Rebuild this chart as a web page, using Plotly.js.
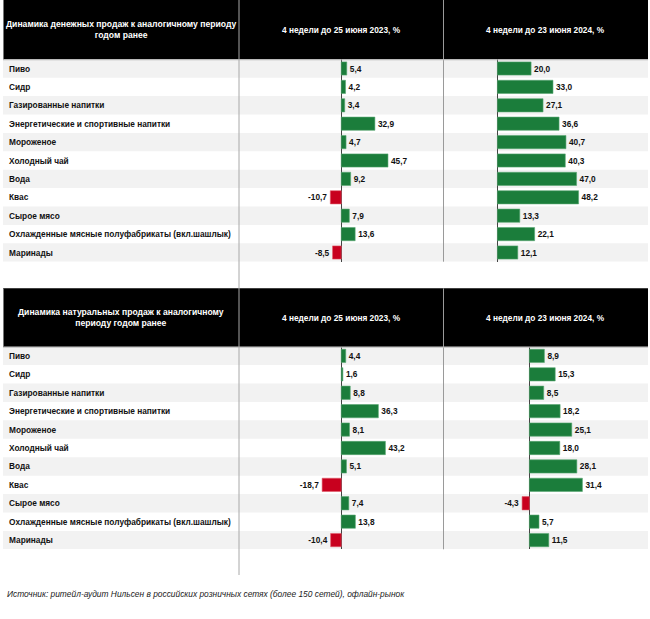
<!DOCTYPE html>
<html>
<head>
<meta charset="utf-8">
<script src="https://cdn.plot.ly/plotly-3.0.1.min.js"></script>
<style>html,body{margin:0;padding:0;background:#fff;}#chart{width:650px;height:619px;}</style>
</head>
<body>
<div id="chart"></div>
<script>
const categories = ['Пиво','Сидр','Газированные напитки','Энергетические и спортивные напитки','Мороженое','Холодный чай','Вода','Квас','Сырое мясо','Охлажденные мясные полуфабрикаты (вкл.шашлык)','Маринады'];
const money2023 = [5.4,4.2,3.4,32.9,4.7,45.7,9.2,-10.7,7.9,13.6,-8.5];
const money2024 = [20.0,33.0,27.1,36.6,40.7,40.3,47.0,48.2,13.3,22.1,12.1];
const volume2023 = [4.4,1.6,8.8,36.3,8.1,43.2,5.1,-18.7,7.4,13.8,-10.4];
const volume2024 = [8.9,15.3,8.5,18.2,25.1,18.0,28.1,31.4,-4.3,5.7,11.5];

const tableTitles = ['Динамика денежных продаж к аналогичному периоду<br>годом ранее','Динамика натуральных продаж к аналогичному<br>периоду годом ранее'];
const columnTitles = ['4 недели до 25 июня 2023, %','4 недели до 23 июня 2024, %'];
const sourceText = 'Источник: ритейл-аудит Нильсен в российских розничных сетях (более 150 сетей), офлайн-рынок';

const W = 650, H = 619;
const px = v => v / W;
const py = v => 1 - v / H;
const FONT = 'Liberation Sans, Arial, sans-serif';
const GREEN = '#1b7d3b', RED = '#c8001e';

function barTrace(vals, xa, ya) {
  return {
    type: 'bar', orientation: 'h', x: vals, y: categories,
    xaxis: xa, yaxis: ya, width: 0.72,
    marker: {color: vals.map(v => v < 0 ? RED : GREEN), line: {width: 0.6, color: vals.map(v => v < 0 ? '#e05a6a' : '#5aa874')}},
    texttemplate: '%{x:.1f}', textposition: 'outside', cliponaxis: false, constraintext: 'none',
    textfont: {family: FONT, size: 8.3, color: '#111', weight: 'bold'},
    hoverinfo: 'skip', showlegend: false
  };
}

const data = [
  barTrace(money2023, 'x', 'y'),
  barTrace(money2024, 'x2', 'y2'),
  barTrace(volume2023, 'x3', 'y3'),
  barTrace(volume2024, 'x4', 'y4')
];

// table geometry (pixels)
const tables = [{hTop: 0, hBot: 59.3, rBot: 261.7}, {hTop: 288.3, hBot: 346.7, rBot: 549.3}];
const colL = 239, colM = 443.5, colR = 648, left = 3;

function xaxis(dom, range) {
  return {domain: dom, range: range, showticklabels: false, showgrid: false, zeroline: true,
    zerolinecolor: '#444', zerolinewidth: 1, fixedrange: true, showline: false, ticks: ''};
}
function yaxis(dom) {
  return {domain: dom, type: 'category', categoryarray: categories, range: [categories.length - 0.5, -0.5],
    showticklabels: false, showgrid: false, zeroline: false, fixedrange: true, ticks: ''};
}
const d1 = [px(colL), px(colM)], d2 = [px(colM), px(colR)];
const yTop = [py(tables[0].rBot), py(tables[0].hBot)];
const yBot = [py(tables[1].rBot), py(tables[1].hBot)];

const shapes = [];
const annotations = [];
const yrefs = [['y', 'y2'], ['y3', 'y4']];

tables.forEach((t, ti) => {
  categories.forEach((c, i) => {
    if (i % 2 === 0) {
      shapes.push({type: 'rect', xref: 'paper', yref: yrefs[ti][0], x0: px(left), x1: px(colR), y0: i - 0.5, y1: i + 0.5,
        fillcolor: '#f2f2f2', line: {width: 0}, layer: 'below'});
    }
    annotations.push({xref: 'paper', yref: yrefs[ti][0], x: px(7), y: c, xanchor: 'left', yanchor: 'middle', showarrow: false,
      text: '<b>' + c + '</b>', font: {family: FONT, size: 8.3, color: '#111'}});
  });
  shapes.push({type: 'rect', xref: 'paper', yref: 'paper', x0: px(left), x1: px(colR), y0: py(t.hBot), y1: py(t.hTop),
    fillcolor: '#000', line: {width: 0}, layer: 'above'});
  shapes.push({type: 'line', xref: 'paper', yref: 'paper', x0: px(left + 0.5), x1: px(left + 0.5), y0: py(t.hBot), y1: py(t.hTop),
    line: {color: '#777', width: 1}, layer: 'above'});
  shapes.push({type: 'line', xref: 'paper', yref: 'paper', x0: px(colM), x1: px(colM), y0: py(t.rBot), y1: py(t.hTop),
    line: {color: '#9a9a9a', width: 1}, layer: 'above'});
  shapes.push({type: 'line', xref: 'paper', yref: 'paper', x0: px(left), x1: px(colR), y0: py(t.hBot + 0.5), y1: py(t.hBot + 0.5),
    line: {color: '#bbb', width: 1}, layer: 'above'});
  annotations.push({xref: 'paper', yref: 'paper', x: px((left + colL) / 2), y: py((t.hTop + t.hBot) / 2), xanchor: 'center', yanchor: 'middle',
    showarrow: false, text: '<b>' + tableTitles[ti] + '</b>', font: {family: FONT, size: 8.6, color: '#fff'}});
  annotations.push({xref: 'paper', yref: 'paper', x: px((colL + colM) / 2), y: py((t.hTop + t.hBot) / 2), xanchor: 'center', yanchor: 'middle',
    showarrow: false, text: '<b>' + columnTitles[0] + '</b>', font: {family: FONT, size: 8.3, color: '#fff'}});
  annotations.push({xref: 'paper', yref: 'paper', x: px((colM + colR) / 2), y: py((t.hTop + t.hBot) / 2), xanchor: 'center', yanchor: 'middle',
    showarrow: false, text: '<b>' + columnTitles[1] + '</b>', font: {family: FONT, size: 8.3, color: '#fff'}});
});

shapes.push({type: 'line', xref: 'paper', yref: 'paper', x0: px(colL), x1: px(colL), y0: py(575), y1: py(0),
  line: {color: '#a8a8a8', width: 1}, layer: 'above'});

annotations.push({xref: 'paper', yref: 'paper', x: px(5), y: py(594), xanchor: 'left', yanchor: 'middle', showarrow: false,
  text: '<i>' + sourceText + '</i>', font: {family: FONT, size: 8.4, color: '#222'}});

const layout = {
  width: W, height: H, margin: {l: 0, r: 0, t: 0, b: 0},
  paper_bgcolor: '#fff', plot_bgcolor: 'rgba(0,0,0,0)',
  separators: ', ', bargap: 0.28, showlegend: false,
  xaxis: xaxis(d1, [-100, 100]), yaxis: yaxis(yTop),
  xaxis2: xaxis(d2, [-32, 89.4]), yaxis2: yaxis(yTop),
  xaxis3: xaxis(d1, [-100, 100]), yaxis3: yaxis(yBot),
  xaxis4: xaxis(d2, [-50.8, 70.2]), yaxis4: yaxis(yBot),
  shapes: shapes, annotations: annotations
};

Plotly.newPlot('chart', data, layout, {displayModeBar: false, staticPlot: true});
</script>
</body>
</html>
